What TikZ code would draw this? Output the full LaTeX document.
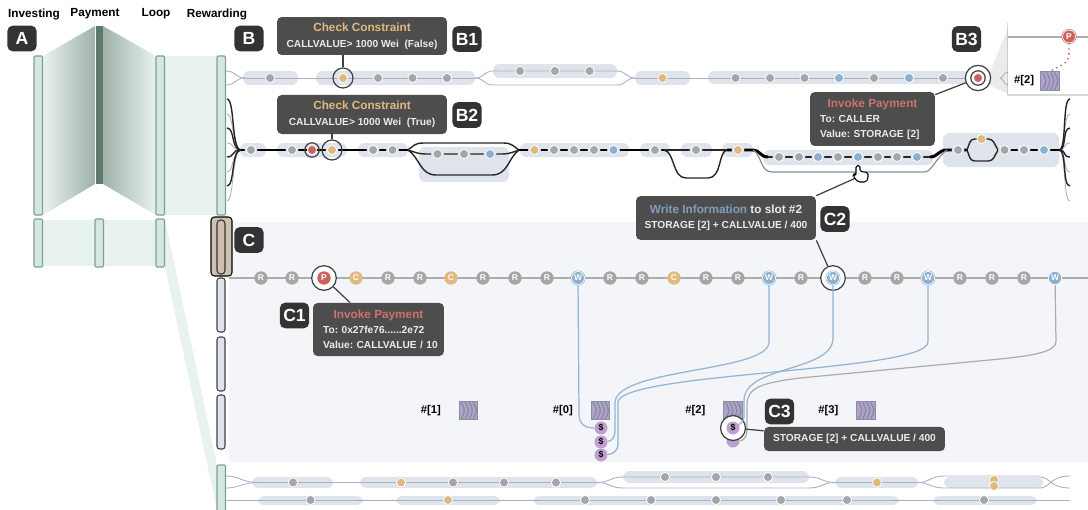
\documentclass[tikz,border=0pt]{standalone}
\usepackage{fontspec}
\setmainfont{Liberation Sans}
\usepackage{xcolor}
\usetikzlibrary{calc,positioning,shadows}
\definecolor{lanefill}{HTML}{DFE4EC}
\definecolor{lanewire}{HTML}{AAB2C2}
\definecolor{panelfill}{HTML}{F4F5F8}
\definecolor{tipfill}{HTML}{4D4D4D}
\definecolor{badgefill}{HTML}{333333}
\definecolor{dotgrey}{HTML}{A6A6A6}
\definecolor{dotorange}{HTML}{E0B97F}
\definecolor{dotred}{HTML}{C9635C}
\definecolor{dotblue}{HTML}{8DB0D0}
\definecolor{wireblue}{HTML}{93B5D3}
\definecolor{coinfill}{HTML}{BE9FCF}
\definecolor{slotfill}{HTML}{B79FCD}
\definecolor{slotedge}{HTML}{82909F}
\definecolor{barfill}{HTML}{D5E8DF}
\definecolor{baredge}{HTML}{7FA090}
\definecolor{bandfill}{HTML}{E8F3ED}
\definecolor{banddark}{HTML}{9FB2A8}
\begin{document}
\begin{tikzpicture}[x=0.02cm,y=-0.02cm,font=\bfseries\fontsize{6.7}{8}\selectfont,
  bar/.style={fill=barfill, draw=baredge, line width=0.6pt, rounded corners=0.6pt},
  slimbar/.style={fill=lanefill, draw=black!75, line width=0.6pt, rounded corners=1.5pt},
  lane/.style={fill=lanefill, rounded corners=3.6pt},
  thinwire/.style={draw=lanewire, line width=0.5pt},
  heavy/.style={draw=black, line width=1.7pt},
  medium/.style={draw=black!85, line width=0.8pt},
  dot/.style={circle, inner sep=0pt, minimum size=5.2pt, fill=dotgrey, draw=white, line width=0.45pt},
  gap/.style={preaction={draw=lanefill, line width=1.9pt}},
  ring/.style={circle, inner sep=0pt, draw=black!75, line width=0.7pt},
  op/.style={circle, inner sep=0pt, minimum size=7.6pt, text=white, font=\bfseries\fontsize{4.8}{4}\selectfont},
  wop/.style={op, fill=dotblue, draw=dotblue, double=white, double distance=0.4pt, line width=0.35pt, minimum size=7.4pt},
  coin/.style={circle, inner sep=0pt, minimum size=7.4pt, fill=coinfill, font=\bfseries\fontsize{5}{5}\selectfont},
  tip/.style={fill=tipfill, rounded corners=2.6pt, text=white!92!black, inner sep=0pt, align=center,
              font=\frenchspacing\bfseries\fontsize{5.8}{8.5}\selectfont},
  badge/.style={fill=badgefill, rounded corners=3pt, text=white, inner sep=0pt, minimum width=16.6pt,
                minimum height=14.6pt, font=\bfseries\fontsize{10}{10}\selectfont},
  link/.style={draw=black!75, line width=0.7pt},
  wire/.style={draw=wireblue, line width=0.7pt},
  slotbox/.style={fill=slotfill, draw=slotedge, line width=0.6pt, minimum size=10.4pt, inner sep=0pt},
  slottag/.style={inner sep=0pt, font=\bfseries\fontsize{6.4}{8}\selectfont}]
\newcommand{\tiphead}[1]{{\fontsize{6.7}{8.5}\selectfont #1}}
\useasboundingbox (0,0) rectangle (1088,510);
% --- column heads ---
\foreach \x/\t in {34/Investing, 95/Payment, 156/Loop, 217/Rewarding}
  \node[inner sep=0pt] (head\t) at (\x,14) {\t};
% --- ribbons between the columns ---
\fill[bandfill] (165,56) rectangle (217,215);
\fill[bandfill] (43,220) rectangle (156,266);
\fill[bandfill] (165,220) -- (217,465) -- (217,510) -- (165,267) -- cycle;
\shade[left color=bandfill, right color=banddark] (43,56) -- (95,26) -- (95,184) -- (43,215) -- cycle;
\shade[left color=banddark, right color=bandfill] (103,26) -- (156,56) -- (156,215) -- (103,184) -- cycle;
\foreach \x in {34,156,217}
  \draw[bar] (\x,56) rectangle (\x+8.5,215);
\foreach \x in {34,95,156}
  \draw[bar] (\x,219) rectangle (\x+8.5,267);
\fill[fill=baredge!75!black] (95.5,26) rectangle (103,184);
\draw[bar] (217,465) rectangle (225.5,512);
% --- panel of the selected run ---
\fill[panelfill, rounded corners=2pt] (229,222) rectangle (1094,462);
\draw[fill=brown!45!gray!50, draw=black, line width=0.6pt, rounded corners=2pt] (211,217) rectangle (232,276);
\draw[fill=brown!45!gray!50, draw=black!80, line width=0.6pt, rounded corners=2pt] (217,220) rectangle (225,274);
\foreach \ya/\yb in {278/332, 337/391, 395/449}
  \draw[slimbar] (217,\ya) rectangle (225,\yb);
% --- lanes, row by row ---
\foreach \xa/\ya/\xb/\yb in {243/71/298/85, 316/71/475/85, 493/64/617/78, 635/71/690/85, 708/71/1008/84,
                             240/143/266/157, 277/143/347/157, 358/143/408/157, 419/147/509/182,
                             520/143/629/157, 640/143/670/157, 681/143/712/157, 722/143/753/157,
                             763/150/933/165, 943/133/1059/167,
                             252/477/333/488, 360/477/597/488, 623/471/809/483, 835/477/918/488, 944/477/1043/488,
                             258/496/363/505, 396/496/500/505, 533/496/899/505, 933/496/1037/505}
  \fill[lane] (\xa,\ya) rectangle (\xb,\yb);
% --- first row ---
\coordinate (onea) at (245,78);
\coordinate (oneb) at (475,78);
\coordinate (onec) at (617,71);
\coordinate (oned) at (617,85);
\coordinate (onee) at (635,78);
\coordinate (onef) at (1000,78);
\foreach \y in {71,85}
  \draw[thinwire] (226,\y) .. controls (236,\y) and (235,78) .. (onea);
\draw[thinwire] (onea) -- (oneb);
\draw[thinwire] (oneb) .. controls (484,78) and (484,71) .. (493,71) -- (onec);
\draw[thinwire] (oneb) .. controls (484,78) and (484,85) .. (493,85) -- (oned);
\draw[thinwire] (onec) .. controls (626,71) and (626,78) .. (onee);
\draw[thinwire] (oned) .. controls (626,85) and (626,78) .. (onee);
\draw[thinwire] (onee) -- (onef);
% --- popover of the payment ---
\fill[black!8] (990,72) -- (1008,28) -- (1008,94) -- (991,86) -- cycle;
\foreach \y in {72,85}
  \draw[thinwire] (onef) .. controls (1003,78) and (1004,\y) .. (1008,\y);
\fill[white, drop shadow={shadow xshift=-0.6pt, shadow yshift=-1pt, opacity=0.3}] (1008,21) rectangle (1090,94);
\draw[draw=black!32, line width=1.2pt] (1008,37) -- (1088,37);
% --- second row ---
\coordinate (fanl) at (241,150);
\coordinate (twoa) at (408,150);
\coordinate (twob) at (519,150);
\coordinate (twoc) at (664,150);
\coordinate (twod) at (727,150);
\coordinate (twoe) at (753,150);
\coordinate (twof) at (768,157);
\coordinate (twog) at (930,157);
\coordinate (twoh) at (947,150);
\coordinate (twoi) at (967,150);
\coordinate (twoj) at (998,150);
\coordinate (fanr) at (1059,150);
\foreach \y in {114,143,172,201} {
  \draw[thinwire] (227,\y) .. controls (234,\y) and (232,150) .. (fanl);
  \draw[thinwire] (1070,\y) .. controls (1063,\y) and (1066,150) .. (fanr);
}
\foreach \y in {99,128,157,186} {
  \draw[medium] (227,\y) .. controls (235,\y) and (231,150) .. (fanl);
  \draw[medium] (1070,\y) .. controls (1062,\y) and (1067,150) .. (fanr);
}
\draw[heavy] (fanl) -- (twoa);
\draw[medium] (twoa) .. controls (414,146) and (414,143) .. (424,143) -- (503,143) .. controls (512,143) and (513,146) .. (twob);
\draw[medium] (twoa) .. controls (420,154) and (420,154) .. (430,154) -- (498,154) .. controls (508,154) and (508,154) .. (twob);
\draw[medium] (twoa) .. controls (420,158) and (420,175) .. (436,175) -- (492,175) .. controls (508,175) and (508,158) .. (twob);
\draw[heavy] (twob) -- (twoc);
\draw[medium] (twoc) -- (twod);
\draw[medium] (twoc) .. controls (675,152) and (672,178) .. (686,178) -- (708,178) .. controls (722,178) and (718,152) .. (twod);
\draw[heavy] (twod) -- (twoe) .. controls (760,150) and (760,157) .. (twof);
\draw[medium, line width=1.1pt] (twof) -- (twog);
\draw[heavy] (twog) .. controls (938,157) and (938,150) .. (twoh) -- (twoi);
\draw[draw=slotedge, line width=0.7pt] (twoe) .. controls (762,155) and (760,172) .. (772,172) -- (924,172) .. controls (932,172) and (934,160) .. (twoh);
\draw[medium, rounded corners=2pt] (twoi) -- (971,139) -- (992,139) -- (twoj);
\draw[medium, rounded corners=2pt] (twoi) -- (971,161) -- (992,161) -- (twoj);
\draw[heavy] (twoj) -- (fanr);
% --- two rows at the bottom ---
\coordinate (thra) at (260,482.5);
\coordinate (thrb) at (597,482.5);
\coordinate (thrc) at (809,477);
\coordinate (thrd) at (809,488);
\coordinate (thre) at (835,482.5);
\coordinate (thrf) at (918,482.5);
\coordinate (foua) at (226,500);
\coordinate (foub) at (1070,500);
\foreach \y in {476,488} {
  \draw[thinwire] (226,\y) .. controls (240,\y) and (240,482.5) .. (thra);
  \draw[thinwire] (thrf) .. controls (930,482.5) and (930,\y) .. (945,\y) -- (1040,\y);
}
\draw[thinwire] (1040,477) .. controls (1050,477) and (1050,488) .. (1070,488);
\draw[thinwire] (1040,488) .. controls (1050,488) and (1050,476) .. (1070,476);
\draw[thinwire] (thra) -- (thrb);
\draw[thinwire] (thrb) .. controls (610,482.5) and (610,477) .. (623,477) -- (thrc);
\draw[thinwire] (thrb) .. controls (610,482.5) and (610,488) .. (623,488) -- (thrd);
\draw[thinwire] (thrc) .. controls (822,477) and (822,482.5) .. (thre);
\draw[thinwire] (thrd) .. controls (822,488) and (822,482.5) .. (thre);
\draw[thinwire] (thre) -- (thrf);
\draw[thinwire] (foua) -- (foub);
% --- rings under the dots ---
\node[ring, minimum size=11.4pt] (bonering) at (343,78) {};
\node[ring, minimum size=11.4pt] (btworing) at (332,150) {};
\node[ring, minimum size=8.2pt] (redring) at (312,150) {};
\node[ring, fill=white, minimum size=14.4pt] (bthreering) at (978,78) {};
\node[ring, minimum size=8.2pt] (bthreeinner) at (978,78) {};
% --- dots on the rows ---
\foreach \x in {270,378,412.5,447,735.5,770,804.5,874,943}
  \node[dot] (one\x) at (\x,78) {};
\foreach \x in {520,555,589.5}
  \node[dot] (one\x) at (\x,71) {};
\foreach \x in {839,909}
  \node[dot, fill=dotblue] (one\x) at (\x,78) {};
\foreach \x in {343,662.5}
  \node[dot, fill=dotorange] (one\x) at (\x,78) {};
\node[dot, fill=dotred] (onepay) at (978,78) {};
\foreach \x in {251,292,373,392.5,554,574,594,655,696,958,1004.5,1024}
  \node[dot, gap] (two\x) at (\x,150) {};
\foreach \x in {534.5,738,332}
  \node[dot, gap, fill=dotorange] (two\x) at (\x,150) {};
\node[dot, fill=dotorange] (twotop) at (981.5,139) {};
\foreach \x in {613.5,1044}
  \node[dot, gap, fill=dotblue] (two\x) at (\x,150) {};
\node[dot, fill=dotred] (twopay) at (312,150) {};
\foreach \x/\c in {437.5/dotgrey, 464/dotgrey, 490/dotblue}
  \node[dot, gap, fill=\c] (loop\x) at (\x,154) {};
\foreach \x/\c in {779/dotgrey, 799/dotgrey, 818/dotblue, 838/dotgrey, 858/dotblue, 878/dotgrey, 897/dotgrey, 917/dotblue}
  \node[dot, gap, fill=\c] (low\x) at (\x,157) {};
\foreach \x/\y/\c in {293/482.5/dotgrey, 401/482.5/dotorange, 453/482.5/dotgrey, 504/482.5/dotgrey, 556/482.5/dotgrey,
                      665/477/dotgrey, 716/477/dotgrey, 768/477/dotgrey, 877/482.5/dotorange,
                      994/480/dotorange, 994/486/dotorange,
                      310.5/500/dotgrey, 448/500/dotorange, 585/500/dotgrey, 651/500/dotgrey, 716/500/dotgrey,
                      781/500/dotgrey, 847/500/dotgrey, 984/500/dotgrey}
  \node[dot, fill=\c] at (\x,\y) {};
% --- operations of the selected run ---
\draw[draw=black!32, line width=1.2pt] (229,278) -- (1088,278);
\node[ring, fill=white, minimum size=14pt] (payring) at (324,278) {};
\node[ring, fill=white, minimum size=14pt] (writering) at (833,278) {};
\foreach \x in {261,292,388,420,483,515,547,610,642,706,738,801,865,897,960,992,1024}
  \node[op, fill=dotgrey] (s\x) at (\x,278) {R};
\foreach \x in {356,451,674}
  \node[op, fill=dotorange] (s\x) at (\x,278) {C};
\node[op, fill=dotred] (s324) at (324,278) {P};
\foreach \x in {578,769,833,928}
  \node[wop] (s\x) at (\x,278) {W};
\node[op, fill=dotblue, draw=white, line width=0.4pt] (s1055) at (1055,278) {W};
% --- storage slots ---
\foreach \n/\sx/\sy in {1/468.5/410.5, 0/600.5/410.5, 2/733/410.5, 3/866/410.5, p/1050/81} {
  \node[slotbox] (slot\n) at (\sx,\sy) {};
  \foreach \d in {-6,-2,2,6}
    \draw[draw=slotedge, line width=0.8pt] (\sx+\d-1.5,\sy-8.5) .. controls (\sx+\d+3,\sy) .. (\sx+\d-1.5,\sy+8.5);
}
\foreach \n in {0,1,2,3}
  \node[slottag, left=10pt of slot\n] (tag\n) {\#[\n]};
\node[slottag, left=3.4pt of slotp] (tagp) {\#[2]};
\node[wop, fill=dotred, draw=dotred, minimum size=7.4pt] (popp) at (1069,36.5) {P};
\draw[draw=dotred, line width=0.8pt, dotted] (popp) .. controls (1069,55) and (1070,62) .. (1060,66) -- (slotp.north);
% --- coins and what is written into them ---
\foreach \y/\n in {428/A, 442/B, 455/C}
  \node[coin] (coin\n) at (601,\y) {\$};
\node[coin] (coinD) at (733,441) {};
\draw[wire] (s578) -- (579,414) .. controls (579,424) and (585,428) .. (coinA);
\draw[wire] (s769) -- (769,342) .. controls (769,372) and (618,368) .. (615,402) -- (615,431) .. controls (615,437) and (612,441) .. (coinB);
\draw[wire] (s928) -- (928,342) .. controls (928,372) and (622,372) .. (618,402) -- (618,444) .. controls (618,450) and (614,454) .. (coinC);
\draw[draw=black!32, line width=0.7pt] (s1055) -- (1056,342) .. controls (1056,352) and (1030,356) .. (1000,359) -- (800,378) .. controls (760,383) and (747,388) .. (747,405) -- (747,431) .. controls (747,438) and (742,441) .. (coinD);
\node[ring, fill=white, minimum size=14.2pt] (coinring) at (733,428) {};
\draw[wire] (s833) -- (833,338) .. controls (833,372) and (745,365) .. (744,400) -- (744,417) .. controls (744,421) and (740,425) .. (coinring.center);
\node[coin] (coinE) at (733,428) {\$};
% --- callouts ---
\node[tip, minimum width=96.7pt, minimum height=21.6pt] (tipone) at (362,36)
  {\tiphead{\textcolor{dotorange}{Check Constraint}}\\[0.7pt] CALLVALUE> 1000 Wei\ \ (False)};
\node[tip, minimum width=96.7pt, minimum height=22.2pt] (tiptwo) at (362,114.5)
  {\tiphead{\textcolor{dotorange}{Check Constraint}}\\[0.4pt] CALLVALUE> 1000 Wei\ \ (True)};
\node[tip, text width=59.6pt, inner xsep=5.7pt, align=left, minimum height=30.7pt] (tipthree) at (872.5,119)
  {\makebox[\linewidth]{\tiphead{\textcolor{dotred!90!white}{Invoke Payment}}}\\ To: CALLER\\ Value: STORAGE [2]};
\node[tip, text width=71pt, inner xsep=1.75pt, align=left, minimum height=30.2pt] (tippay) at (378.5,329.5)
  {\makebox[\linewidth]{\tiphead{\textcolor{dotred!90!white}{Invoke Payment}}}\\ \hspace*{4pt}To: 0x27fe76......2e72\\ \hspace*{4pt}Value: CALLVALUE / 10};
\node[tip, minimum width=102.4pt, minimum height=25pt] (tipwrite) at (726,218)
  {\tiphead{\textcolor{dotblue!90!black}{Write Information} to slot \#2}\\[0.3pt] STORAGE [2] + CALLVALUE / 400};
\node[tip, minimum width=103pt, minimum height=13.7pt] (tipsum) at (854.5,439) {STORAGE [2] + CALLVALUE / 400};
\draw[link] (tipone.south -| bonering) -- (bonering);
\draw[link] (tiptwo.south -| btworing) -- (btworing);
\draw[link] (bthreering) -- (tipthree);
\draw[link] (payring) -- (tippay);
\draw[link] (writering) -- (tipwrite.south east);
\draw[link] (coinring) -- (tipsum);
% --- hand pointer on the write step ---
\coordinate (handtip) at (858,177);
\draw[link] (handtip) -- (tipwrite.north east);
\draw[fill=white, draw=black, line width=0.6pt, rounded corners=1pt]
  (856,175) -- (856,165.5) -- (860,165.5) -- (860,171.5) -- (868,172.5) -- (868,179) -- (866,182) -- (858,182) -- (853,176) -- (854,174) -- cycle;
% --- letters ---
\node[badge] (badgeA) at (22,38.5) {A};
\node[badge] (badgeB) at (249,38.5) {B};
\node[badge] (badgeC) at (249,240) {C};
\node[badge] (badgeBone) at (467,39) {B1};
\node[badge] (badgeBtwo) at (467,115) {B2};
\node[badge] (badgeBthree) at (966.5,39) {B3};
\node[badge] (badgeCone) at (294.5,315.5) {C1};
\node[badge] (badgeCtwo) at (835,219) {C2};
\node[badge] (badgeCthree) at (779.5,411.5) {C3};
\end{tikzpicture}
\end{document}
